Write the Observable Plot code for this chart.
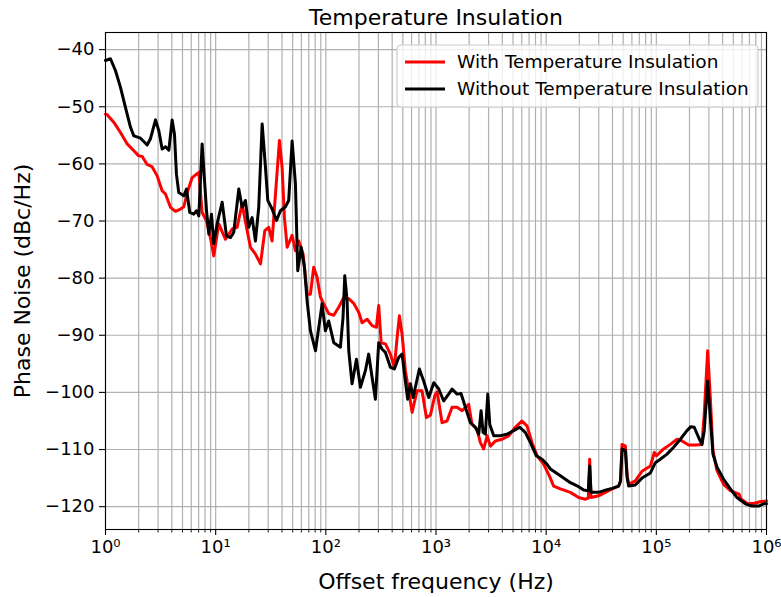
<!DOCTYPE html>
<html><head><meta charset="utf-8">
<script src="https://cdn.jsdelivr.net/npm/d3@7"></script>
<script src="https://cdn.jsdelivr.net/npm/@observablehq/plot@0.6"></script>
<style>body{margin:0;background:#fff;}</style>
</head><body><div id="chart"></div>
<script>
const chartTitle = "Temperature Insulation";
const xLabel = "Offset frequency (Hz)";
const yLabel = "Phase Noise (dBc/Hz)";
const seriesNames = ["With Temperature Insulation", "Without Temperature Insulation"];
const seriesColors = ["#ff0000", "#000000"];

// log10 of offset frequency (Hz) and phase noise (dBc/Hz)
const withLogFreq = [0.0,0.015,0.075,0.136,0.197,0.257,0.302,0.333,0.378,0.423,0.469,0.514,0.545,0.590,0.635,0.681,0.711,0.747,0.787,0.826,0.847,0.877,0.917,0.953,0.983,1.028,1.089,1.150,1.195,1.240,1.286,1.316,1.361,1.407,1.446,1.482,1.512,1.543,1.579,1.603,1.624,1.649,1.694,1.724,1.754,1.794,1.830,1.860,1.890,1.921,1.951,1.981,2.026,2.072,2.117,2.163,2.208,2.253,2.299,2.329,2.375,2.420,2.459,2.480,2.502,2.541,2.586,2.622,2.647,2.668,2.692,2.722,2.752,2.783,2.828,2.873,2.913,2.949,2.990,3.010,3.055,3.100,3.146,3.191,3.237,3.297,3.327,3.373,3.403,3.433,3.464,3.494,3.539,3.600,3.660,3.720,3.781,3.827,3.872,3.918,3.978,4.033,4.068,4.129,4.220,4.295,4.356,4.383,4.395,4.407,4.476,4.537,4.598,4.658,4.675,4.689,4.719,4.735,4.749,4.809,4.870,4.946,4.982,5.000,5.066,5.127,5.188,5.233,5.293,5.354,5.414,5.435,5.466,5.490,5.514,5.551,5.611,5.672,5.751,5.770,5.830,5.890,5.950,6.000];
const withPhaseNoise = [-51.3,-51.4,-52.7,-54.5,-56.5,-57.7,-58.6,-58.7,-60.1,-60.5,-62.1,-64.7,-65.3,-67.6,-68.3,-67.9,-67.5,-64.7,-62.4,-61.8,-61.5,-68.5,-70.0,-73.0,-76.1,-70.5,-73.2,-71.4,-71.1,-67.0,-71.7,-74.6,-75.8,-77.5,-71.7,-71.1,-73.5,-65.3,-55.9,-60.6,-69.4,-74.6,-72.5,-75.2,-73.5,-75.8,-82.8,-82.8,-78.1,-79.9,-83.3,-84.5,-86.2,-86.5,-85.1,-83.4,-83.6,-84.4,-86.0,-87.8,-87.2,-88.3,-88.6,-84.8,-91.3,-91.5,-93.3,-95.6,-90.4,-86.6,-89.8,-96.2,-99.7,-103.5,-99.7,-99.7,-104.4,-104.0,-100.5,-99.9,-105.3,-105.0,-102.6,-102.6,-103.2,-102.1,-105.6,-106.5,-108.8,-109.9,-107.6,-109.4,-108.5,-108.2,-107.6,-106.1,-105.0,-105.9,-108.8,-111.1,-112.6,-114.8,-116.4,-116.9,-117.5,-118.4,-118.7,-118.5,-111.7,-118.4,-118.1,-117.5,-116.9,-116.4,-115.5,-109.1,-109.4,-114.5,-116.1,-115.5,-113.8,-112.9,-110.5,-111.1,-109.9,-109.1,-108.2,-108.5,-109.2,-109.2,-109.1,-103.8,-92.7,-100.9,-110.2,-113.7,-116.1,-117.2,-117.8,-118.7,-119.5,-119.4,-119.1,-119.0];

const withoutLogFreq = [0.0,0.045,0.091,0.136,0.181,0.227,0.257,0.318,0.378,0.408,0.454,0.484,0.514,0.545,0.575,0.605,0.626,0.644,0.665,0.711,0.735,0.765,0.801,0.826,0.847,0.877,0.917,0.938,0.962,0.983,1.013,1.059,1.098,1.134,1.164,1.210,1.240,1.270,1.300,1.331,1.361,1.391,1.422,1.452,1.473,1.512,1.552,1.588,1.633,1.663,1.694,1.724,1.745,1.776,1.806,1.830,1.860,1.906,1.966,1.996,2.026,2.072,2.132,2.156,2.172,2.193,2.208,2.238,2.278,2.314,2.359,2.389,2.420,2.450,2.480,2.510,2.541,2.586,2.622,2.661,2.692,2.722,2.743,2.768,2.792,2.849,2.888,2.934,2.980,3.025,3.070,3.115,3.146,3.191,3.227,3.267,3.312,3.358,3.388,3.409,3.427,3.448,3.470,3.488,3.524,3.584,3.645,3.705,3.760,3.811,3.857,3.911,3.963,4.008,4.038,4.129,4.220,4.295,4.341,4.383,4.395,4.407,4.476,4.537,4.598,4.658,4.675,4.689,4.719,4.735,4.749,4.809,4.870,4.946,4.991,5.036,5.097,5.157,5.218,5.278,5.314,5.344,5.384,5.414,5.435,5.466,5.490,5.514,5.551,5.611,5.672,5.732,5.808,5.868,5.929,5.974,6.000];
const withoutPhaseNoise = [-41.9,-41.6,-43.7,-46.6,-50.1,-53.6,-55.1,-55.5,-56.7,-55.6,-52.3,-54.2,-57.4,-57.0,-57.6,-52.3,-54.8,-61.8,-65.0,-65.6,-64.4,-68.5,-68.8,-68.2,-69.1,-56.5,-68.2,-72.3,-68.8,-74.0,-70.5,-66.7,-72.6,-72.9,-72.0,-64.4,-67.6,-66.4,-71.1,-69.4,-73.5,-67.6,-53.0,-60.6,-66.4,-67.9,-69.9,-68.2,-67.5,-66.4,-56.0,-63.5,-78.7,-74.6,-78.1,-84.0,-89.2,-92.7,-84.5,-89.2,-87.5,-91.3,-92.1,-86.9,-79.6,-84.0,-92.7,-98.5,-94.2,-99.1,-96.2,-93.3,-97.4,-101.2,-91.3,-92.4,-93.0,-95.6,-95.9,-93.9,-93.3,-98.0,-101.2,-98.5,-100.9,-95.9,-98.0,-100.9,-98.3,-99.4,-101.5,-100.3,-99.4,-100.3,-100.2,-102.6,-105.3,-106.1,-107.3,-103.2,-107.0,-107.3,-100.3,-105.6,-107.6,-107.6,-107.3,-106.7,-106.1,-107.0,-108.8,-111.1,-111.7,-112.6,-113.4,-114.6,-115.8,-116.5,-117.1,-117.2,-112.9,-117.5,-117.5,-117.1,-116.8,-116.4,-115.5,-109.9,-110.2,-115.0,-116.4,-116.2,-115.0,-114.1,-112.3,-111.7,-110.8,-109.6,-108.2,-106.7,-106.0,-106.1,-107.9,-109.1,-106.7,-98.0,-104.4,-110.8,-113.1,-115.2,-116.9,-118.4,-119.5,-119.9,-119.9,-119.5,-119.5];

const yTicks = [-120,-110,-100,-90,-80,-70,-60,-50,-40];
const xTickExponents = [0,1,2,3,4,5,6];
const yDomain = [-124.0, -37.0];

// build tables
const withRows = withLogFreq.map((e, i) => ({f: 10 ** e, v: withPhaseNoise[i]}));
const withoutRows = withoutLogFreq.map((e, i) => ({f: 10 ** e, v: withoutPhaseNoise[i]}));
const majorX = xTickExponents.map(e => 10 ** e);
const minorX = [];
xTickExponents.slice(0, -1).forEach(e => { for (let k = 2; k <= 9; k++) minorX.push(k * 10 ** e); });
const supDigits = {"0":"⁰","1":"¹","2":"²","3":"³","4":"⁴","5":"⁵","6":"⁶","7":"⁷","8":"⁸","9":"⁹"};
const fmtPow = f => "10" + String(Math.round(Math.log10(f))).split("").map(c => supDigits[c]).join("");

const gridStyle = {stroke: "#b0b0b0", strokeOpacity: 1, strokeWidth: 1.2};
const lineW = 3;
const tickFont = 18;
const labelFont = 22;

const plot = Plot.plot({
  width: 781, height: 597,
  marginLeft: 105, marginRight: 15, marginTop: 32, marginBottom: 68,
  style: {fontFamily: "DejaVu Sans", fontSize: "18px", background: "#fff", color: "#000"},
  x: {type: "log", domain: [1, 1e6]},
  y: {domain: yDomain},
  marks: [
    Plot.gridX(majorX.concat(minorX), gridStyle),
    Plot.gridY(yTicks, gridStyle),
    Plot.line(withRows, {x: "f", y: "v", stroke: seriesColors[0], strokeWidth: lineW, strokeLinejoin: "round", strokeLinecap: "round"}),
    Plot.line(withoutRows, {x: "f", y: "v", stroke: seriesColors[1], strokeWidth: lineW, strokeLinejoin: "round", strokeLinecap: "round"}),
    Plot.frame({stroke: "#000", strokeWidth: 1.1}),
    Plot.axisX(majorX, {tickSize: 6, tickPadding: 5, tickFormat: fmtPow, label: null, strokeWidth: 1.1, fontSize: tickFont}),
    Plot.axisX(minorX, {tickSize: 3.5, tickFormat: () => "", label: null, strokeWidth: 0.9}),
    Plot.axisY(yTicks, {tickSize: 6, tickPadding: 5, label: null, strokeWidth: 1.1, fontSize: tickFont}),
    Plot.text([chartTitle], {frameAnchor: "top", dy: -15, fontSize: labelFont, lineAnchor: "middle", textAnchor: "middle"}),
    Plot.text([xLabel], {frameAnchor: "bottom", dy: 52, fontSize: labelFont, lineAnchor: "middle", textAnchor: "middle"}),
    Plot.text([yLabel], {frameAnchor: "left", dx: -83, rotate: -90, fontSize: labelFont, lineAnchor: "middle", textAnchor: "middle"})
  ]
});

// legend (matplotlib style, upper right)
const svg = d3.select(plot);
const lg = svg.append("g").attr("transform", "translate(397,45)");
lg.append("rect").attr("width", 361).attr("height", 62).attr("rx", 4)
  .attr("fill", "#fff").attr("fill-opacity", 0.8).attr("stroke", "#cccccc").attr("stroke-width", 1.2);
seriesNames.forEach((name, i) => {
  const y = 17 + i * 27;
  lg.append("line").attr("x1", 8).attr("x2", 48).attr("y1", y).attr("y2", y)
    .attr("stroke", seriesColors[i]).attr("stroke-width", lineW);
  lg.append("text").attr("x", 60).attr("y", y).attr("dy", "0.35em").attr("text-anchor", "start")
    .attr("font-family", "DejaVu Sans").attr("font-size", 18.5).attr("fill", "#000").text(name);
});

document.getElementById("chart").appendChild(plot);
</script>
</body></html>
